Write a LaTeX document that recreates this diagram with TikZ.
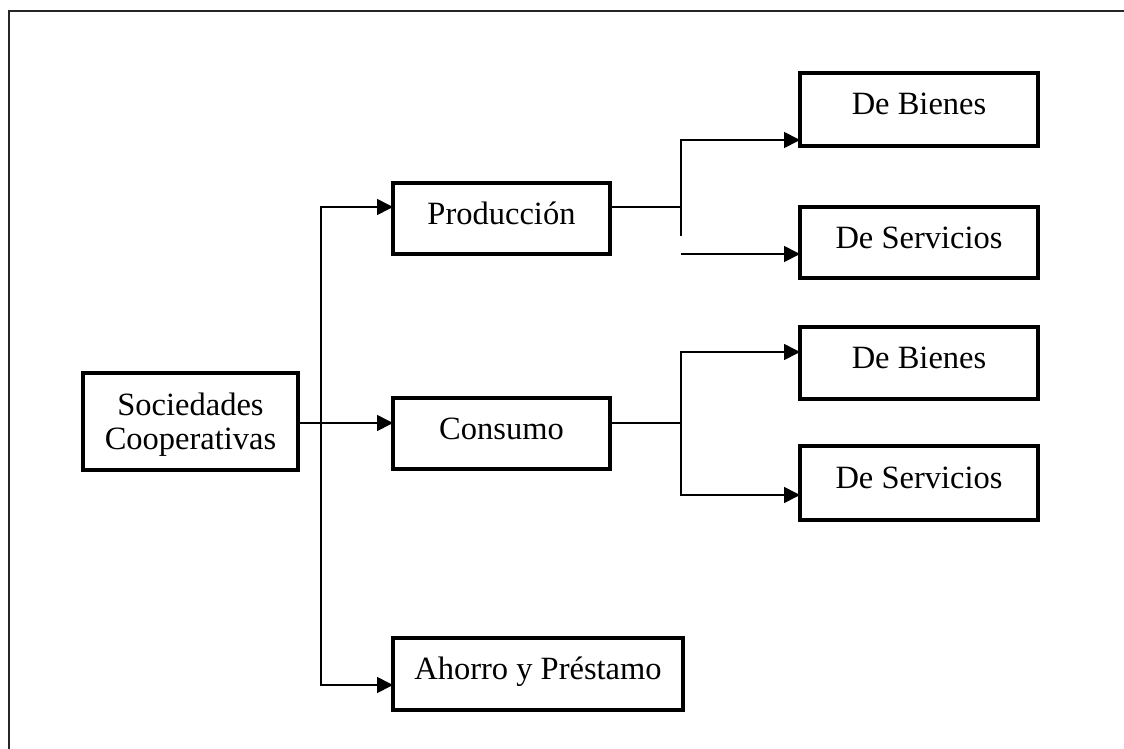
\documentclass[tikz,border=0pt]{standalone}
\usepackage{fontspec}
\setmainfont{Liberation Serif}
\usetikzlibrary{arrows.meta}
\begin{document}
\begin{tikzpicture}[x=1pt,y=-1pt,
  box/.style={draw,line width=3.4pt,rectangle,inner sep=0pt,outer sep=0pt,
    font=\fontsize{32.5}{34}\selectfont,text height=22pt,text depth=11pt},
  conn/.style={line width=1.7pt},
  arr/.style={conn,-{Triangle[length=16pt,width=16pt]}},
  frame/.style={line width=2.2pt,draw=black!85}]
\useasboundingbox (0,0) rectangle (1124,749);
\draw[frame] (9,760) -- (9,11) -- (1130,11);

\node[box,minimum width=215pt,minimum height=97pt,align=center,text height=55pt,text depth=0pt] (soc) at (190.5,421.5) {Sociedades\\Cooperativas};
\node[box,minimum width=217pt,minimum height=71pt] (prod) at (501.5,218.5) {Producción};
\node[box,minimum width=217pt,minimum height=71pt] (cons) at (501.5,433.5) {Consumo};
\node[box,minimum width=290pt,minimum height=72pt] (aho) at (538,674) {Ahorro y Préstamo};
\node[box,minimum width=238pt,minimum height=73pt] (b1) at (919,109.5) {De Bienes};
\node[box,minimum width=238pt,minimum height=71pt] (s1) at (919,242.5) {De Servicios};
\node[box,minimum width=238pt,minimum height=72pt] (b2) at (919,363) {De Bienes};
\node[box,minimum width=238pt,minimum height=74pt] (s2) at (919,483) {De Servicios};

% trunk
\coordinate (tmid) at (321,423);
\coordinate (ttop) at (321,207);
\coordinate (tbot) at (321,685);
\draw[arr] (soc.east |- tmid) -- (tmid -| cons.west);
\draw[arr] (tbot) -- (ttop) -- (ttop -| prod.west);
\draw[arr] (ttop) -- (tbot) -- (tbot -| aho.west);

% produccion branch
\coordinate (pj) at (681,207);
\coordinate (pjtop) at (681,140);
\coordinate (pjend) at (681,236);
\coordinate (pjlow) at (681,254);
\draw[conn] (prod.east |- pj) -- (pj);
\draw[arr] (pjend) -- (pjtop) -- (pjtop -| b1.west);
\draw[arr] (pjlow) -- (pjlow -| s1.west);

% consumo branch
\coordinate (cj) at (681,423);
\coordinate (cjtop) at (681,352);
\coordinate (cjbot) at (681,495);
\draw[conn] (cons.east |- cj) -- (cj);
\draw[arr] (cjbot) -- (cjtop) -- (cjtop -| b2.west);
\draw[arr] (cjtop) -- (cjbot) -- (cjbot -| s2.west);
\end{tikzpicture}
\end{document}
